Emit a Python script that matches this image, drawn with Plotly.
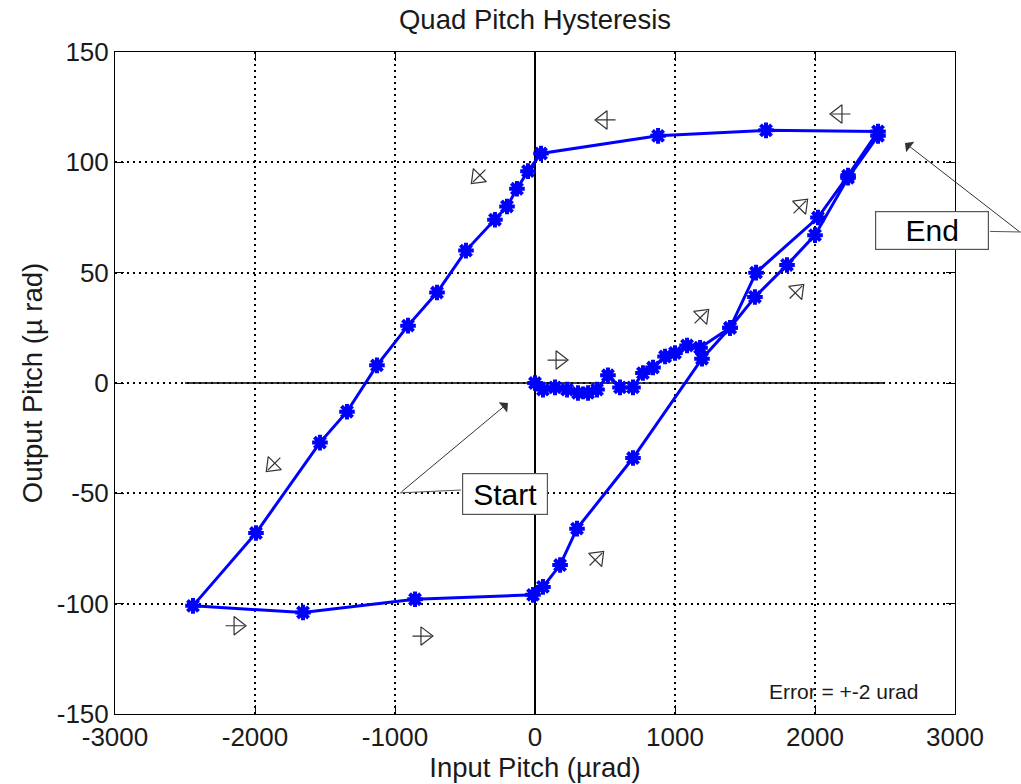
import math
import plotly.graph_objects as go

# ---------------- data ----------------
input_pitch = [0, 57, 143, 229, 307, 379, 443, 521, 607, 700, 771, 843, 929, 1000, 1086, 1179,
               1393, 1579, 2021, 2236, 2450,
               1650, 879, 43, -50, -129, -200, -286, -493, -700, -907, -1129, -1343, -1536,
               -1993, -2443,
               -1657, -857, -14, 57, 179, 300, 700, 1193, 1393, 1571, 1800, 2000, 2236, 2450]
output_pitch = [0, -3, -2, -3, -4.5, -4.5, -3, 3.5, -2, -2, 4.5, 7, 12, 13.6, 17, 16,
                25, 50, 75, 94, 114,
                114.5, 112, 104, 96, 88, 80, 74, 60, 41, 26, 8, -13, -27,
                -68, -101,
                -104, -98, -96, -92.4, -82.5, -66, -34, 11, 25, 39, 53.5, 67, 93, 112]

x_ticks = [-3000, -2000, -1000, 0, 1000, 2000, 3000]
x_tick_labels = ["-3000", "-2000", "-1000", "0", "1000", "2000", "3000"]
y_ticks = [-150, -100, -50, 0, 50, 100, 150]
y_tick_labels = ["-150", "-100", "-50", "0", "50", "100", "150"]

# direction arrows: x, y, heading (degrees clockwise from up)
arrow_x = [486, 2164, -414, -1879, -2121, -786, 450, 179, 1200, 1907, 1879]
arrow_y = [119.2, 121.9, 92.9, -37.6, -110, -114.7, -78.9, 10.4, 30.8, 80.7, 42.1]
arrow_heading = [270, 270, 225, 225, 90, 90, 45, 90, 45, 45, 45]

FONT = "Liberation Sans, Arial, Helvetica, sans-serif"
TXT = "#1a1a1a"

fig = go.Figure()

# y = 0 reference line (limited span)
fig.add_trace(go.Scatter(x=[-2500, 2500], y=[0, 0], mode="lines",
                         line=dict(color="black", width=1.3), hoverinfo="skip", showlegend=False))

# main hysteresis curve
fig.add_trace(go.Scatter(x=input_pitch, y=output_pitch, mode="lines+markers",
                         line=dict(color="#0000ff", width=3),
                         marker=dict(symbol="asterisk-open", size=13,
                                     line=dict(color="#0000ff", width=4)),
                         showlegend=False))

# arrow heads (open triangles)
fig.add_trace(go.Scatter(x=arrow_x, y=arrow_y, mode="markers",
                         marker=dict(symbol="triangle-up-open", size=16, angle=arrow_heading,
                                     color="#333333", line=dict(color="#333333", width=1.2)),
                         hoverinfo="skip", showlegend=False))

annotations = []
for ax_, ay_, h in zip(arrow_x, arrow_y, arrow_heading):
    ux = math.sin(math.radians(h))
    uy = -math.cos(math.radians(h))
    for L in (-14, 8):
        annotations.append(dict(x=ax_, y=ay_, xref="x", yref="y", text="", showarrow=True,
                                arrowhead=0, arrowwidth=1.2, arrowcolor="#333333",
                                ax=L * ux, ay=L * uy))

# Start label
annotations.append(dict(x=-193, y=-9.1, xref="x", yref="y", text="", showarrow=True,
                        arrowhead=1, arrowsize=2.2, arrowwidth=1, arrowcolor="#333333",
                        ax=-108, ay=90))
annotations.append(dict(x=-214, y=-50.3, xref="x", yref="y", text="Start", showarrow=False,
                        font=dict(family=FONT, size=30, color="black"),
                        bgcolor="white", bordercolor="#555555", borderwidth=1.2,
                        width=82, height=38, borderpad=1))
# End label
annotations.append(dict(x=2643, y=108.8, xref="x", yref="y", text="", showarrow=True,
                        arrowhead=1, arrowsize=2.2, arrowwidth=1, arrowcolor="#333333",
                        ax=121, ay=90))
annotations.append(dict(x=2836, y=68.9, xref="x", yref="y", text="End", showarrow=False,
                        font=dict(family=FONT, size=30, color="black"),
                        bgcolor="white", bordercolor="#555555", borderwidth=1.2,
                        width=110, height=35, borderpad=1))
# error note
annotations.append(dict(x=2207, y=-140, xref="x", yref="y", text="Error = +-2 urad",
                        showarrow=False, font=dict(family=FONT, size=21, color=TXT)))

shapes = [
    dict(type="line", xref="x", yref="y", x0=-964, y0=-49.8, x1=-529, y1=-48.5,
         line=dict(color="#555555", width=1)),
    dict(type="line", xref="paper", yref="paper", x0=1.0417, y0=0.729, x1=1.082, y1=0.728,
         line=dict(color="#555555", width=1)),
]

axis_common = dict(showline=True, linecolor="black", linewidth=1, mirror="ticks",
                   ticks="inside", ticklen=9, tickcolor="black", tickwidth=1,
                   showgrid=True, gridcolor="black", gridwidth=1.6, griddash="2px,4px",
                   tickfont=dict(family=FONT, size=26, color=TXT))

fig.update_layout(
    width=1021, height=784,
    margin=dict(l=115, r=66, t=52, b=70),
    paper_bgcolor="white", plot_bgcolor="white",
    title=dict(text="Quad Pitch Hysteresis", x=0.5, xref="paper", xanchor="center",
               y=1 - 19 / 784, yref="container", yanchor="middle",
               font=dict(family=FONT, size=27.5, color=TXT)),
    xaxis=dict(range=[-3000, 3000], tickvals=x_ticks, ticktext=x_tick_labels,
               zeroline=True, zerolinecolor="black", zerolinewidth=1.5,
               title=dict(text="Input Pitch (µrad)", standoff=2,
                          font=dict(family=FONT, size=27.5, color=TXT)),
               **axis_common),
    yaxis=dict(range=[-150, 150], tickvals=y_ticks, ticktext=y_tick_labels,
               zeroline=False,
               title=dict(text="Output Pitch (µ rad)", standoff=6,
                          font=dict(family=FONT, size=27.5, color=TXT)),
               **axis_common),
    annotations=annotations,
    shapes=shapes,
)

fig.write_html("out.html")
